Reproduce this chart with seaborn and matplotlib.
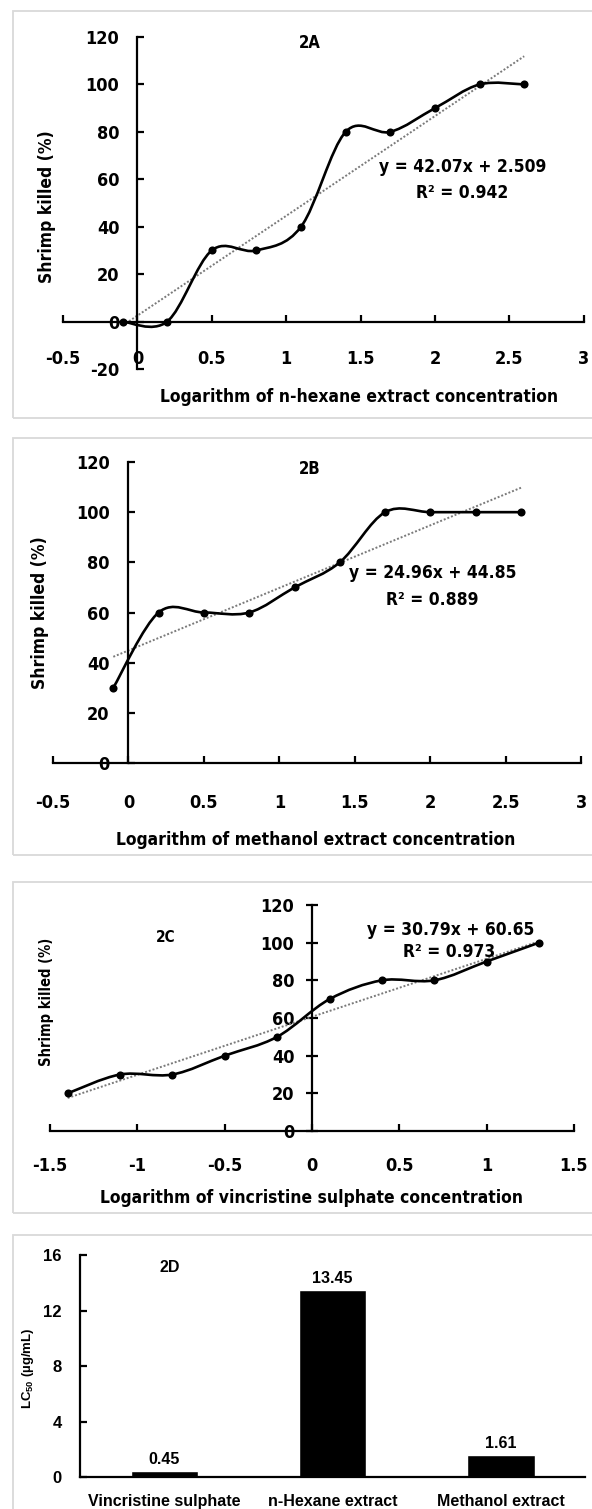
import numpy as np
import matplotlib
matplotlib.use("Agg")
import matplotlib.pyplot as plt
from matplotlib import font_manager as fm
from matplotlib.path import Path
from matplotlib.patches import PathPatch, Rectangle
import seaborn as sns
import pandas as pd

# 2A - n-hexane extract
hex_logc = [-0.1, 0.2, 0.5, 0.8, 1.1, 1.4, 1.7, 2.0, 2.3, 2.6]
hex_killed = [0, 0, 30, 30, 40, 80, 80, 90, 100, 100]
# 2B - methanol extract
meth_logc = [-0.1, 0.2, 0.5, 0.8, 1.1, 1.4, 1.7, 2.0, 2.3, 2.6]
meth_killed = [30, 60, 60, 60, 70, 80, 100, 100, 100, 100]
# 2C - vincristine sulphate
vinc_logc = [-1.4, -1.1, -0.8, -0.5, -0.2, 0.1, 0.4, 0.7, 1.0, 1.3]
vinc_killed = [20, 30, 30, 40, 50, 70, 80, 80, 90, 100]

# linear trendlines as printed on the chart (A, B, C)
fit_slope = [42.07, 24.96, 30.79]
fit_icpt = [2.509, 44.85, 60.65]
fit_r2 = [0.942, 0.889, 0.973]

# 2D - LC50 values
lc_names = ['Vincristine sulphate', 'n-Hexane extract', 'Methanol extract']
lc_values = [0.45, 13.45, 1.61]

sns.set_style("white")
names = {f.name for f in fm.fontManager.ttflist}
if 'Liberation Sans Narrow' in names:
    main_font = ['Liberation Sans Narrow', 'DejaVu Sans']
else:
    main_font = ['DejaVu Sans']
    plt.rcParams['font.stretch'] = 'condensed'
plt.rcParams['font.family'] = main_font
plt.rcParams['font.weight'] = 'bold'
plt.rcParams['mathtext.default'] = 'regular'
for key in ['text.color', 'axes.labelcolor', 'xtick.color', 'ytick.color']:
    plt.rcParams[key] = 'black'

W, H = 592, 1509
fig = plt.figure(figsize=(W / 100, H / 100), dpi=100)


def box(l, t, r, b):
    return [l / W, 1 - b / H, (r - l) / W, (b - t) / H]


def ftext(x, y, s, **kw):
    kw.setdefault('ha', 'center')
    kw.setdefault('va', 'center')
    fig.text(x / W, 1 - y / H, s, **kw)


# light grey frames around each panel
for top, bot in [(11, 418), (438, 855), (882, 1213), (1235, 1520)]:
    fig.add_artist(Rectangle((12.5 / W, 1 - bot / H), 1.0, (bot - top) / H,
                             transform=fig.transFigure, fill=False,
                             ec='#d9d9d9', lw=1.3))


def smooth_path(x, y):
    # Excel-style smoothed line: Catmull-Rom segments as cubic Beziers
    pts = np.column_stack([x, y]).astype(float)
    n = len(pts)
    verts, codes = [pts[0]], [Path.MOVETO]
    for i in range(n - 1):
        p0 = pts[max(i - 1, 0)]
        p1, p2 = pts[i], pts[i + 1]
        p3 = pts[min(i + 2, n - 1)]
        verts += [p1 + (p2 - p0) / 6, p2 - (p3 - p1) / 6, p2]
        codes += [Path.CURVE4] * 3
    return Path(verts, codes)


def line_panel(ax, x, y, k, xlim, ylim, xticks, yticks):
    df = pd.DataFrame({'logc': x, 'killed': y})
    xs = np.array([min(x), max(x)])
    sns.lineplot(x=xs, y=fit_slope[k] * xs + fit_icpt[k], ax=ax,
                 color='#7a7a7a', linewidth=1.4, linestyle=(0, (1, 1)), zorder=2)
    ax.add_patch(PathPatch(smooth_path(x, y), fill=False, ec='black',
                           lw=1.9, zorder=3))
    sns.scatterplot(data=df, x='logc', y='killed', ax=ax, color='black',
                    s=34, linewidth=0, zorder=4)
    ax.set_xlim(xlim)
    ax.set_ylim(ylim)
    ax.spines['left'].set_position(('data', 0))
    ax.spines['bottom'].set_position(('data', 0))
    for s in ['top', 'right']:
        ax.spines[s].set_visible(False)
    for s in ['left', 'bottom']:
        ax.spines[s].set_linewidth(1.6)
        ax.spines[s].set_color('black')
    ax.set_xticks(xticks, [f'{t:g}' for t in xticks])
    ax.set_yticks(yticks, [f'{t:g}' for t in yticks])
    ax.tick_params(bottom=True, left=True, color='black')
    ax.set_xlabel('')
    ax.set_ylabel('')


# ---- 2A ----
axA = fig.add_axes(box(63, 37, 583.7, 369))
line_panel(axA, hex_logc, hex_killed, 0, (-0.5, 3), (-20, 120),
           np.arange(-0.5, 3.01, 0.5), np.arange(-20, 121, 20))
axA.tick_params(axis='x', direction='in', length=5, width=1.6, pad=20.5, labelsize=13)
axA.tick_params(axis='y', direction='in', length=5, width=1.6, pad=13, labelsize=13)
ftext(309.6, 43, '2A', fontsize=12)
ftext(462.5, 167, f'y = {fit_slope[0]}x + {fit_icpt[0]}', fontsize=12.5)
ftext(462.5, 193, f'R² = {fit_r2[0]}', fontsize=12.5)
ftext(47, 207, 'Shrimp killed (%)', fontsize=12.5, rotation=90)
ftext(358.7, 397, 'Logarithm of n-hexane extract concentration', fontsize=12.5)

# ---- 2B ----
axB = fig.add_axes(box(52.9, 462, 581.4, 763))
line_panel(axB, meth_logc, meth_killed, 1, (-0.5, 3), (0, 120),
           np.arange(-0.5, 3.01, 0.5), np.arange(0, 121, 20))
axB.tick_params(axis='x', direction='in', length=5, width=1.6, pad=22.5, labelsize=13)
axB.tick_params(axis='y', direction='in', length=5, width=1.6, pad=13.5, labelsize=13)
ftext(309.6, 469, '2B', fontsize=12)
ftext(432.3, 573, f'y = {fit_slope[1]}x + {fit_icpt[1]}', fontsize=12.5)
ftext(432.3, 600, f'R² = {fit_r2[1]}', fontsize=12.5)
ftext(39.6, 613, 'Shrimp killed (%)', fontsize=12.5, rotation=90)
ftext(315.3, 840, 'Logarithm of methanol extract concentration', fontsize=12.5)

# ---- 2C ----
axC = fig.add_axes(box(50.2, 905, 573.9, 1131))
line_panel(axC, vinc_logc, vinc_killed, 2, (-1.5, 1.5), (0, 120),
           np.arange(-1.5, 1.51, 0.5), np.arange(0, 121, 20))
axC.tick_params(axis='x', direction='in', length=5, width=1.6, pad=18.4, labelsize=13)
axC.tick_params(axis='y', direction='inout', length=8, width=1.6, pad=8.8, labelsize=13)
ftext(166, 937, '2C', fontsize=11)
ftext(451, 930, f'y = {fit_slope[2]}x + {fit_icpt[2]}', fontsize=12.5)
ftext(449, 952, f'R² = {fit_r2[2]}', fontsize=12.5)
ftext(47, 1002, 'Shrimp killed (%)', fontsize=10.5, rotation=90)
ftext(311.5, 1198, 'Logarithm of vincristine sulphate concentration', fontsize=12.5)

# ---- 2D ----
dfont = ['Liberation Sans', 'DejaVu Sans']
axD = fig.add_axes(box(80, 1255, 585, 1477.3))
sns.barplot(x=lc_names, y=lc_values, color='black', saturation=1,
            width=0.4, ax=axD)
axD.bar_label(axD.containers[0], fmt='%.2f', padding=3, fontsize=11.5,
              family=dfont)
axD.set_xlim(-0.5, 2.5)
axD.set_ylim(0, 16)
axD.set_yticks([0, 4, 8, 12, 16])
for s in ['top', 'right']:
    axD.spines[s].set_visible(False)
for s in ['left', 'bottom']:
    axD.spines[s].set_linewidth(1.6)
    axD.spines[s].set_color('black')
axD.tick_params(axis='x', length=0, pad=12, labelsize=11.5)
axD.tick_params(axis='y', left=True, direction='in', length=5, width=1.6,
                color='black', pad=13, labelsize=12)
for lab in axD.get_xticklabels() + axD.get_yticklabels():
    lab.set_family(dfont)
axD.set_xlabel('')
axD.set_ylabel('')
ftext(170, 1267, '2D', fontsize=11.5, family=dfont)
ftext(28, 1368, 'LC$_{50}$ (µg/mL)', fontsize=9.5, rotation=90, family=dfont)

fig.savefig('out.png', dpi=100)
